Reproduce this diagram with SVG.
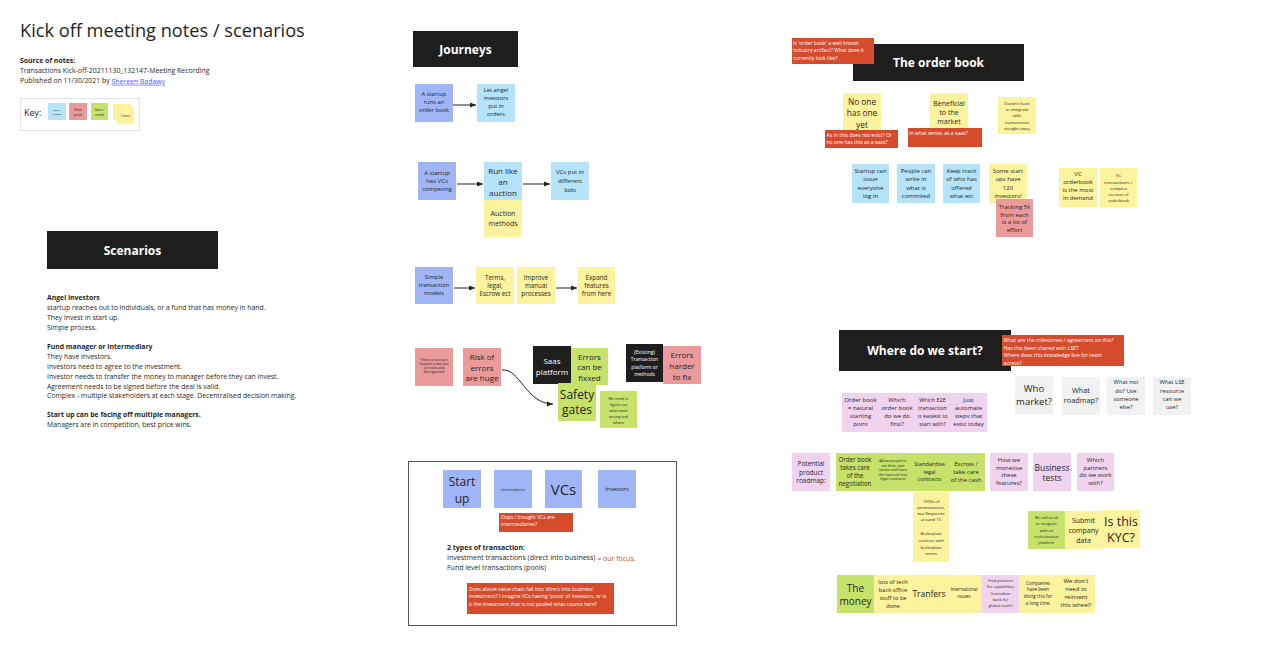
<svg xmlns="http://www.w3.org/2000/svg" width="1263" height="661" viewBox="0 0 1263 661">
<style>
text{font-family:"Open Sans","Liberation Sans",sans-serif;fill:#1f1f1f}
.c{text-anchor:middle;dominant-baseline:central}
.l{dominant-baseline:central}
.w{fill:#fff}
.b{font-weight:bold}
.pb{fill:#9fb5f5}.lb{fill:#b4e3fa}.ye{fill:#fcf39e}.pk{fill:#ea9a9b}.gr{fill:#c6e26b}.lv{fill:#f0d3ef}.gy{fill:#f1f1f1}.rd{fill:#d64b2b}.bk{fill:#1e1e1e}
.cn{fill:none;stroke:#222;stroke-width:1;marker-end:url(#ah)}
</style>
<defs>
<marker id="ah" viewBox="0 0 10 10" refX="10" refY="5" markerWidth="6" markerHeight="6" markerUnits="userSpaceOnUse" orient="auto"><path d="M0,1 L10,5 L0,9z" fill="#222"/></marker>
</defs>
<rect width="1263" height="661" fill="#fff"/>

<g id="title">
<text x="20" y="37" font-size="18.2">Kick off meeting notes / scenarios</text>
<text x="20" y="60.7" font-size="6.9" class="l b">Source of notes:</text>
<text x="20" y="70" font-size="6.9" class="l">Transactions Kick-off-20211130_132147-Meeting Recording</text>
<text x="20" y="80.7" font-size="6.9" class="l">Published on 11/30/2021 by <tspan fill="#3f62ff" text-decoration="underline">Shereen Badawy</tspan></text>
</g>

<g id="key">
<rect x="20.5" y="98.5" width="119" height="32" fill="#fff" stroke="#e3e3e3"/>
<text x="24" y="112" font-size="9" class="l">Key:</text>
<rect x="48" y="103" width="18" height="17" class="lb"/>
<text class="c" font-size="2.4"><tspan x="57" y="110">Job to</tspan><tspan x="57" y="113.5">be done</tspan></text>
<rect x="69" y="103" width="18" height="17" class="pk"/>
<text class="c" font-size="3.6"><tspan x="78" y="108.5">Pain</tspan><tspan x="78" y="114">point</tspan></text>
<rect x="91" y="103" width="17" height="17" class="gr"/>
<text class="c" font-size="3.6"><tspan x="99.5" y="108.5">Gain /</tspan><tspan x="99.5" y="114">need</tspan></text>
<rect x="113" y="104" width="18" height="16" class="ye"/>
<rect x="117" y="107" width="17" height="17" class="ye" stroke="#f3e88a" stroke-width="0.3"/>
<text class="c" font-size="2.6" x="125.5" y="115.5">Contact</text>
</g>

<g id="scenarios-header">
<rect x="47" y="231" width="171" height="38" class="bk"/>
<text x="132.5" y="250" font-size="12" class="c w b">Scenarios</text>
</g>

<g id="scenarios-text" font-size="6.85">
<text x="47" y="297" class="l b">Angel investors</text>
<text x="47" y="307" class="l">startup reaches out to individuals, or a fund that has money in hand.</text>
<text x="47" y="317" class="l">They invest in start up.</text>
<text x="47" y="327" class="l">Simple process.</text>
<text x="47" y="346" class="l b">Fund manager or Intermediary</text>
<text x="47" y="356" class="l">They have investors.</text>
<text x="47" y="366" class="l">Investors need to agree to the investment.</text>
<text x="47" y="376" class="l">Investor needs to transfer the money to manager before they can invest.</text>
<text x="47" y="386" class="l">Agreement needs to be signed before the deal is valid.</text>
<text x="47" y="395.5" class="l">Complex - multiple stakeholders at each stage. Decentralised decision making.</text>
<text x="47" y="414.5" class="l b">Start up can be facing off multiple managers.</text>
<text x="47" y="424" class="l">Managers are in competition, best price wins.</text>
</g>

<g id="journeys-header">
<rect x="413" y="31" width="105" height="36" class="bk"/>
<text x="465.5" y="49" font-size="12" class="c w b">Journeys</text>
</g>

<g id="connectors">
<line x1="453" y1="105" x2="476" y2="105" class="cn"/>
<line x1="457" y1="184" x2="483" y2="184" class="cn"/>
<line x1="523" y1="184" x2="550" y2="184" class="cn"/>
<line x1="454" y1="288" x2="475" y2="288" class="cn"/>
<line x1="556" y1="288" x2="577" y2="288" class="cn"/>
<path d="M502,370 C520,368 526,404 553,404" class="cn"/>
</g>

<g id="j1"><rect x="415" y="84" width="38" height="38" class="pb"/>
<text class="c" font-size="5.8"><tspan x="434" y="94.3">A startup</tspan><tspan x="434" y="102.3">runs an</tspan><tspan x="434" y="110.3">order book</tspan></text></g>
<g id="j2"><rect x="477" y="84" width="38" height="38" class="lb"/>
<text class="c" font-size="5.8"><tspan x="496" y="90.3">Let angel</tspan><tspan x="496" y="98.2">investors</tspan><tspan x="496" y="106.1">put in</tspan><tspan x="496" y="114">orders</tspan></text></g>

<g id="j3"><rect x="418" y="162" width="38" height="38" class="pb"/>
<text class="c" font-size="6"><tspan x="437" y="172.7">A startup</tspan><tspan x="437" y="181">has VCs</tspan><tspan x="437" y="189.3">competing</tspan></text></g>
<g id="j4"><rect x="484" y="162" width="38" height="38" class="lb"/>
<text class="c" font-size="8"><tspan x="503" y="170.3">Run like</tspan><tspan x="503" y="181">an</tspan><tspan x="503" y="191.7">auction</tspan></text></g>
<g id="j5"><rect x="484" y="200" width="38" height="37" class="ye"/>
<text class="c" font-size="7"><tspan x="503" y="212.7">Auction</tspan><tspan x="503" y="223">methods</tspan></text></g>
<g id="j6"><rect x="551" y="162" width="38" height="38" class="lb"/>
<text class="c" font-size="6"><tspan x="570" y="171.7">VCs put in</tspan><tspan x="570" y="180.7">different</tspan><tspan x="570" y="189.5">bids</tspan></text></g>

<g id="j7"><rect x="415" y="267" width="38" height="37" class="pb"/>
<text class="c" font-size="5.8"><tspan x="434" y="277.3">Simple</tspan><tspan x="434" y="285">transaction</tspan><tspan x="434" y="292.7">models</tspan></text></g>
<g id="j8"><rect x="476" y="267" width="38" height="37" class="ye"/>
<text class="c" font-size="6.3"><tspan x="495" y="276.7">Terms,</tspan><tspan x="495" y="285">legal,</tspan><tspan x="495" y="293.3">Escrow ect</tspan></text></g>
<g id="j9"><rect x="517" y="267" width="38" height="37" class="ye"/>
<text class="c" font-size="6.3"><tspan x="536" y="276.7">Improve</tspan><tspan x="536" y="285">manual</tspan><tspan x="536" y="293.3">processes</tspan></text></g>
<g id="j10"><rect x="578" y="267" width="37" height="37" class="ye"/>
<text class="c" font-size="6.3"><tspan x="596.5" y="276.7">Expand</tspan><tspan x="596.5" y="285">features</tspan><tspan x="596.5" y="293.3">from here</tspan></text></g>

<g id="j11"><rect x="415" y="348" width="38" height="38" class="pk"/>
<text class="c" font-size="3.5"><tspan x="434" y="358.5">These processes</tspan><tspan x="434" y="362.5">happen today but</tspan><tspan x="434" y="366.5">are slow and</tspan><tspan x="434" y="370.5">disorganised</tspan></text></g>
<g id="j12"><rect x="463" y="348" width="38" height="38" class="pk"/>
<text class="c" font-size="8"><tspan x="482" y="356">Risk of</tspan><tspan x="482" y="366.5">errors</tspan><tspan x="482" y="377">are huge</tspan></text></g>
<g id="j13"><rect x="533" y="346" width="38" height="38" class="bk"/>
<text class="c w" font-size="8"><tspan x="552" y="360">Saas</tspan><tspan x="552" y="370.5">platform</tspan></text></g>
<g id="j14"><rect x="571" y="348" width="37" height="37" class="gr"/>
<text class="c" font-size="8"><tspan x="589.5" y="355.7">Errors</tspan><tspan x="589.5" y="366.3">can be</tspan><tspan x="589.5" y="377">fixxed</tspan></text></g>
<g id="j15"><rect x="558" y="383" width="38" height="38" class="gr"/>
<text class="c" font-size="12"><tspan x="577" y="394">Safety</tspan><tspan x="577" y="409">gates</tspan></text></g>
<g id="j16"><rect x="600" y="391" width="37" height="37" class="gr"/>
<text class="c" font-size="3.8"><tspan x="618.5" y="397.5">We need to</tspan><tspan x="618.5" y="403.5">figure out</tspan><tspan x="618.5" y="409.7">what went</tspan><tspan x="618.5" y="415.8">wrong and</tspan><tspan x="618.5" y="421.7">where</tspan></text></g>
<g id="j17"><rect x="626" y="344" width="37" height="38" class="bk"/>
<text class="c w" font-size="5"><tspan x="644.5" y="351.7">(Existing)</tspan><tspan x="644.5" y="359">Transaction</tspan><tspan x="644.5" y="366.5">platform or</tspan><tspan x="644.5" y="373.5">methods</tspan></text></g>
<g id="j18"><rect x="663" y="346" width="38" height="38" class="pk"/>
<text class="c" font-size="8"><tspan x="682" y="354">Errors</tspan><tspan x="682" y="365">harder</tspan><tspan x="682" y="375.7">to fix</tspan></text></g>

<g id="value-chain-frame">
<rect x="408.5" y="461.5" width="268" height="164" fill="none" stroke="#555" stroke-width="1"/>
</g>
<g id="v1"><rect x="443" y="470" width="38" height="38" class="pb"/>
<text class="c" font-size="12"><tspan x="462" y="481">Start</tspan><tspan x="462" y="497.5">up</tspan></text></g>
<g id="v2"><rect x="494" y="470" width="38" height="38" class="pb"/>
<text class="c" font-size="3.5" x="513" y="489">Intermediaries</text></g>
<g id="v3"><rect x="545" y="470" width="37" height="38" class="pb"/>
<text class="c" font-size="15" x="563.5" y="488.5">VCs</text></g>
<g id="v4"><rect x="598" y="470" width="38" height="38" class="pb"/>
<text class="c" font-size="5.5" x="617" y="488.5">Investors</text></g>
<g id="v5"><rect x="499" y="513" width="74" height="19" class="rd"/>
<text class="l w" font-size="5"><tspan x="501" y="516.8">Oops I thought VCs are</tspan><tspan x="501" y="524.3">intermediaries?</tspan></text></g>
<g id="v6" font-size="7">
<text x="447" y="547.5" class="l b">2 types of transaction:</text>
<text x="447" y="557.5" class="l">Investment transactions (direct into business) <tspan fill="#d64b2b">= our focus.</tspan></text>
<text x="447" y="567.5" class="l">Fund level transactions (pools)</text>
</g>
<g id="v7"><rect x="467" y="583" width="147" height="31" class="rd"/>
<text class="l w" font-size="5.1"><tspan x="469" y="588.5">Does above value chain fall into 'direct into business'</tspan><tspan x="469" y="596">investment? I imagine VCs having 'pools' of investors, or is</tspan><tspan x="469" y="603.5">it the investment that is not pooled what counts here?</tspan></text></g>

<g id="orderbook-header">
<rect x="853" y="44" width="171" height="37" class="bk"/>
<text x="938.5" y="62" font-size="12" class="c w b">The order book</text>
</g>
<g id="o1"><rect x="792" y="38" width="82" height="26" class="rd"/>
<text class="l w" font-size="5.1"><tspan x="793" y="42.5">Is 'order book' a well known</tspan><tspan x="793" y="50">industry artifact? What does it</tspan><tspan x="793" y="57.7">currently look like?</tspan></text></g>
<g id="o2"><rect x="843" y="93" width="38" height="39" class="ye"/>
<text class="c" font-size="8.3"><tspan x="862" y="100.7">No one</tspan><tspan x="862" y="112.3">has one</tspan><tspan x="862" y="123.5">yet</tspan></text></g>
<g id="o3"><rect x="825" y="130" width="73" height="18" class="rd"/>
<text class="l w" font-size="5.1"><tspan x="826.5" y="134.5">As in this does not exist? Or</tspan><tspan x="826.5" y="142.3">no one has this as a saas?</tspan></text></g>
<g id="o4"><rect x="930" y="93" width="38" height="37" class="ye"/>
<text class="c" font-size="7"><tspan x="949" y="103.3">Beneficial</tspan><tspan x="949" y="112.3">to the</tspan><tspan x="949" y="121">market</tspan></text></g>
<g id="o5"><rect x="908" y="128" width="74" height="19" class="rd"/>
<text class="l w" font-size="5.1" x="909" y="133.3">In what sense, as a saas?</text></g>
<g id="o6"><rect x="998" y="97" width="38" height="37" class="ye"/>
<text class="c" font-size="4.2"><tspan x="1017" y="102.5">Doesn't have</tspan><tspan x="1017" y="108.8">to integrate</tspan><tspan x="1017" y="115.2">with</tspan><tspan x="1017" y="121.6">transactions</tspan><tspan x="1017" y="128">straight away</tspan></text></g>
<g id="o7"><rect x="852" y="164" width="37" height="39" class="lb"/>
<text class="c" font-size="6"><tspan x="870.5" y="171">Startup can</tspan><tspan x="870.5" y="179.3">issue</tspan><tspan x="870.5" y="187.7">everyone</tspan><tspan x="870.5" y="195.7">log in</tspan></text></g>
<g id="o8"><rect x="897" y="164" width="38" height="39" class="lb"/>
<text class="c" font-size="6"><tspan x="916" y="171">People can</tspan><tspan x="916" y="179.3">write in</tspan><tspan x="916" y="187.7">what is</tspan><tspan x="916" y="195.7">commited</tspan></text></g>
<g id="o9"><rect x="943" y="164" width="37" height="39" class="lb"/>
<text class="c" font-size="6"><tspan x="961.5" y="171">Keep track</tspan><tspan x="961.5" y="179.3">of who has</tspan><tspan x="961.5" y="187.7">offered</tspan><tspan x="961.5" y="195.7">what etc</tspan></text></g>
<g id="o10"><rect x="989" y="164" width="38" height="39" class="ye"/>
<text class="c" font-size="6"><tspan x="1008" y="171">Some start</tspan><tspan x="1008" y="179.3">ups have</tspan><tspan x="1008" y="187.7">120</tspan><tspan x="1008" y="195.7">investors!</tspan></text></g>
<g id="o11"><rect x="996" y="199" width="37" height="38" class="pk"/>
<text class="c" font-size="6"><tspan x="1014.5" y="206.7">Tracking 5k</tspan><tspan x="1014.5" y="214.5">from each</tspan><tspan x="1014.5" y="222.3">is a lot of</tspan><tspan x="1014.5" y="230">effort</tspan></text></g>
<g id="o12"><rect x="1059" y="168" width="38" height="39" class="ye"/>
<text class="c" font-size="6"><tspan x="1078" y="174">VC</tspan><tspan x="1078" y="182">orderbook</tspan><tspan x="1078" y="190.3">is the most</tspan><tspan x="1078" y="198.3">in demand</tspan></text></g>
<g id="o13"><rect x="1100" y="168" width="37" height="39" class="ye"/>
<text class="c" font-size="4.3"><tspan x="1118.5" y="175">VC</tspan><tspan x="1118.5" y="181.5">transactions =</tspan><tspan x="1118.5" y="187.7">complex</tspan><tspan x="1118.5" y="193.7">version of</tspan><tspan x="1118.5" y="199.7">orderbook</tspan></text></g>

<g id="where-header">
<rect x="839" y="330" width="172" height="41" class="bk"/>
<text x="925" y="350.5" font-size="12" class="c w b">Where do we start?</text>
</g>
<g id="w1"><rect x="1002" y="335" width="122" height="31" class="rd"/>
<text class="l w" font-size="5.2"><tspan x="1003.5" y="340">What are the milestones / agreement on this?</tspan><tspan x="1003.5" y="347.5">Has this been shared with LSE?</tspan><tspan x="1003.5" y="355">Where does this knowledge live for team</tspan><tspan x="1003.5" y="362.7">access?</tspan></text></g>
<g id="w2"><rect x="842" y="393" width="37" height="39" class="lv"/>
<text class="c" font-size="6"><tspan x="860.5" y="400">Order book</tspan><tspan x="860.5" y="407.8">= natural</tspan><tspan x="860.5" y="415.8">starting</tspan><tspan x="860.5" y="424">point</tspan></text></g>
<g id="w3"><rect x="879" y="393" width="36" height="39" class="lv"/>
<text class="c" font-size="6"><tspan x="897" y="400">Which</tspan><tspan x="897" y="407.8">order book</tspan><tspan x="897" y="415.8">do we do</tspan><tspan x="897" y="424">first?</tspan></text></g>
<g id="w4"><rect x="915" y="393" width="35" height="39" class="lv"/>
<text class="c" font-size="5.5"><tspan x="932.5" y="400">Which E2E</tspan><tspan x="932.5" y="407.8">transaction</tspan><tspan x="932.5" y="415.8">is easiest to</tspan><tspan x="932.5" y="424">start with?</tspan></text></g>
<g id="w5"><rect x="950" y="393" width="37" height="39" class="lv"/>
<text class="c" font-size="6"><tspan x="968.5" y="400">Just</tspan><tspan x="968.5" y="407.8">automate</tspan><tspan x="968.5" y="415.8">steps that</tspan><tspan x="968.5" y="424">exist today</tspan></text></g>
<g id="w6"><rect x="1015" y="376" width="38" height="38" class="gy"/>
<text class="c" font-size="9.5"><tspan x="1034" y="388.3">Who</tspan><tspan x="1034" y="400.7">market?</tspan></text></g>
<g id="w7"><rect x="1062" y="377" width="38" height="38" class="gy"/>
<text class="c" font-size="7.3"><tspan x="1081" y="390.3">What</tspan><tspan x="1081" y="399.5">roadmap?</tspan></text></g>
<g id="w8"><rect x="1107" y="377" width="38" height="38" class="gy"/>
<text class="c" font-size="5.8"><tspan x="1126" y="382.3">What not</tspan><tspan x="1126" y="390.5">do? Use</tspan><tspan x="1126" y="398.7">someone</tspan><tspan x="1126" y="406.7">else?</tspan></text></g>
<g id="w9"><rect x="1153" y="377" width="38" height="38" class="gy"/>
<text class="c" font-size="5.8"><tspan x="1172" y="382.3">What LSE</tspan><tspan x="1172" y="390.5">resource</tspan><tspan x="1172" y="398.7">can we</tspan><tspan x="1172" y="406.7">use?</tspan></text></g>

<g id="r1"><rect x="792" y="453" width="38" height="38" class="lv"/>
<text class="c" font-size="6.5"><tspan x="811" y="462.7">Potential</tspan><tspan x="811" y="471.5">product</tspan><tspan x="811" y="480.2">roadmap:</tspan></text></g>
<g id="r2"><rect x="836" y="453" width="38" height="38" class="gr"/>
<text class="c" font-size="6.2"><tspan x="855" y="459">Order book</tspan><tspan x="855" y="467.2">takes care</tspan><tspan x="855" y="475.3">of the</tspan><tspan x="855" y="483.3">negotiation</tspan></text></g>
<g id="r3"><rect x="874" y="453" width="38" height="38" class="gr"/>
<text class="c" font-size="3.8"><tspan x="893" y="460">Allow people to</tspan><tspan x="893" y="464.6">set their own</tspan><tspan x="893" y="469.2">terms and have</tspan><tspan x="893" y="473.8">the execute into</tspan><tspan x="893" y="478.4">legal contracts</tspan></text></g>
<g id="r4"><rect x="912" y="453" width="35" height="38" class="gr"/>
<text class="c" font-size="5.5"><tspan x="929.5" y="464">Standardise</tspan><tspan x="929.5" y="471.7">legal</tspan><tspan x="929.5" y="479.3">contracts</tspan></text></g>
<g id="r5"><rect x="947" y="453" width="38" height="38" class="gr"/>
<text class="c" font-size="6"><tspan x="966" y="464">Escrow /</tspan><tspan x="966" y="472">take care</tspan><tspan x="966" y="480">of the cash</tspan></text></g>
<g id="r6"><rect x="990" y="453" width="38" height="38" class="lv"/>
<text class="c" font-size="6"><tspan x="1009" y="460">How we</tspan><tspan x="1009" y="467.6">monetise</tspan><tspan x="1009" y="475.4">these</tspan><tspan x="1009" y="483.2">features?</tspan></text></g>
<g id="r7"><rect x="1033" y="453" width="38" height="38" class="lv"/>
<text class="c" font-size="8.5"><tspan x="1052" y="467.3">Business</tspan><tspan x="1052" y="477">tests</tspan></text></g>
<g id="r8"><rect x="1077" y="453" width="37" height="38" class="lv"/>
<text class="c" font-size="6"><tspan x="1095.5" y="460">Which</tspan><tspan x="1095.5" y="467.5">partners</tspan><tspan x="1095.5" y="475.3">do we work</tspan><tspan x="1095.5" y="482.8">with?</tspan></text></g>
<g id="r9"><rect x="913" y="492" width="36" height="33" class="ye"/>
<text class="c" font-size="4.2"><tspan x="931" y="500.7">1000s of</tspan><tspan x="931" y="506.8">permutations,</tspan><tspan x="931" y="512.9">but flexpoints</tspan><tspan x="931" y="519">around 15</tspan></text></g>
<g id="r10"><rect x="913" y="525" width="36" height="37" class="ye"/>
<text class="c" font-size="4.2"><tspan x="931" y="533.3">Boilerplate</tspan><tspan x="931" y="540">contract with</tspan><tspan x="931" y="546.7">boilerplate</tspan><tspan x="931" y="553.3">terms</tspan></text></g>
<g id="r11"><rect x="1028" y="511" width="37" height="38" class="gr"/>
<text class="c" font-size="3.9"><tspan x="1046.5" y="516.8">We will need</tspan><tspan x="1046.5" y="523.2">to integrate</tspan><tspan x="1046.5" y="529.8">with an</tspan><tspan x="1046.5" y="536.2">orchestration</tspan><tspan x="1046.5" y="542.4">platform</tspan></text></g>
<g id="r12"><rect x="1065" y="511" width="37" height="38" class="ye"/>
<text class="c" font-size="7"><tspan x="1083.5" y="520">Submit</tspan><tspan x="1083.5" y="529.8">company</tspan><tspan x="1083.5" y="539.5">data</tspan></text></g>
<g id="r13"><rect x="1102" y="510" width="38" height="38" class="ye"/>
<text class="c" font-size="12.5"><tspan x="1121" y="521">Is this</tspan><tspan x="1121" y="536.7">KYC?</tspan></text></g>

<g id="m1"><rect x="837" y="575" width="37" height="38" class="gr"/>
<text class="c" font-size="10"><tspan x="855.5" y="587.5">The</tspan><tspan x="855.5" y="601">money</tspan></text></g>
<g id="m2"><rect x="874" y="575" width="38" height="38" class="ye"/>
<text class="c" font-size="5.7"><tspan x="893" y="582.3">lots of tech</tspan><tspan x="893" y="590">back office</tspan><tspan x="893" y="597.8">stuff to be</tspan><tspan x="893" y="605.8">done</tspan></text></g>
<g id="m3"><rect x="912" y="575" width="34" height="38" class="ye"/>
<text class="c" font-size="8.5" x="929" y="593.3">Tranfers</text></g>
<g id="m4"><rect x="946" y="575" width="36" height="38" class="ye"/>
<text class="c" font-size="4.5"><tspan x="964" y="589.3">International</tspan><tspan x="964" y="596">issues</tspan></text></g>
<g id="m5"><rect x="982" y="575" width="37" height="38" class="lv"/>
<text class="c" font-size="4"><tspan x="1000.5" y="580.2">Find partners</tspan><tspan x="1000.5" y="586.3">for capabilities</tspan><tspan x="1000.5" y="592.8">(custodian</tspan><tspan x="1000.5" y="599">bank for</tspan><tspan x="1000.5" y="605">global reach)</tspan></text></g>
<g id="m6"><rect x="1019" y="575" width="38" height="38" class="ye"/>
<text class="c" font-size="4.6"><tspan x="1038" y="583.3">Companies</tspan><tspan x="1038" y="589.3">have been</tspan><tspan x="1038" y="595.8">doing this for</tspan><tspan x="1038" y="602.5">a long time.</tspan></text></g>
<g id="m7"><rect x="1057" y="575" width="38" height="38" class="ye"/>
<text class="c" font-size="6"><tspan x="1076" y="580.7">We don't</tspan><tspan x="1076" y="589">need to</tspan><tspan x="1076" y="597.2">reinvent</tspan><tspan x="1076" y="605">this wheel?</tspan></text></g>
</svg>
